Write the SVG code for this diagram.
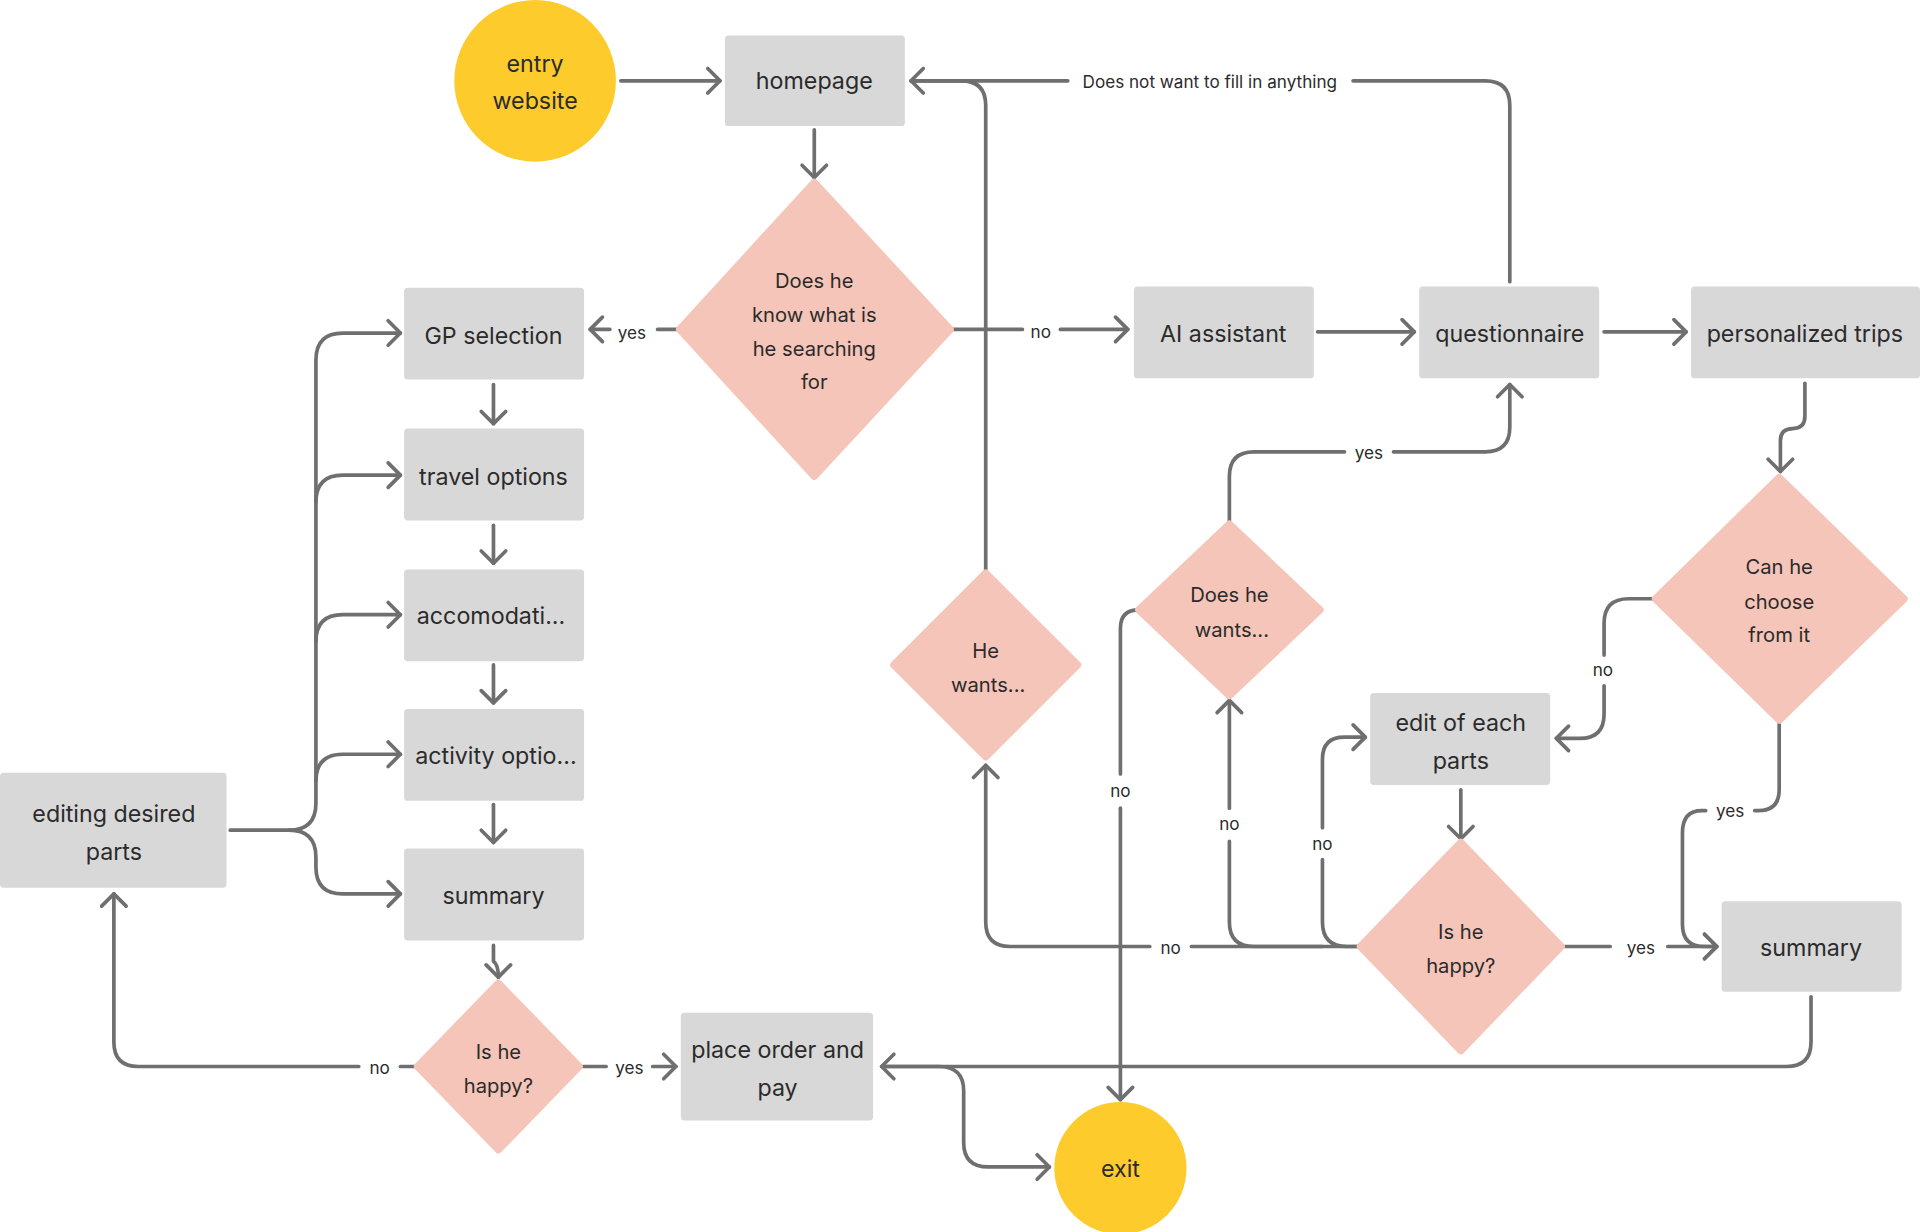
<svg xmlns="http://www.w3.org/2000/svg" width="1920" height="1232" viewBox="0 0 1920 1232">
<defs>
<marker id="a" markerUnits="userSpaceOnUse" markerWidth="30" markerHeight="30" viewBox="-15 -15 30 30" refX="0" refY="0" orient="auto"><path d="M-10,-10 L0,0 L-10,10" fill="none" stroke="#6f6f6f" stroke-width="3" stroke-linecap="round" stroke-linejoin="round"/></marker>
</defs>
<style>
.b{fill:#d8d8d8}
.d{fill:#f4c5b8}
.c{fill:#fdcb2c}
text{font-family:Inter,Roboto,"Liberation Sans",sans-serif;fill:#2b2b2b;text-anchor:middle}
.t{font-size:19px}
.s{font-size:16.5px}
.l{font-size:14px}
#conn path{fill:none;stroke:#6f6f6f;stroke-width:3;stroke-linecap:round;stroke-linejoin:round}
</style>
<rect width="1920" height="1232" fill="#fff"/>
<g transform="scale(1.22449)">
<g id="conn">
<path d="M507,66 H588" marker-end="url(#a)"/>
<path d="M665,106 V145" marker-end="url(#a)"/>
<path d="M553,269 H537"/><path d="M498,269 H482" marker-end="url(#a)"/>
<path d="M778,269 H835"/><path d="M866,269 H921" marker-end="url(#a)"/>
<path d="M1076,271 H1155" marker-end="url(#a)"/>
<path d="M1310,271 H1377" marker-end="url(#a)"/>
<path d="M1474,313 V340 Q1474,350 1464,350 Q1454,350 1454,360 V385" marker-end="url(#a)"/>
<path d="M1350,489 H1330 Q1310,489 1310,509 V535"/><path d="M1310,560 V583 Q1310,603 1290,603 H1271" marker-end="url(#a)"/>
<path d="M1193,645 V685" marker-end="url(#a)"/>
<path d="M1453,591 V645 Q1453,662 1436,662 H1433"/><path d="M1393,662 H1390 Q1374,662 1374,680 V755 Q1374,773 1392,773 H1402" marker-end="url(#a)"/>
<path d="M1278,773 H1315"/><path d="M1362,773 H1402" marker-end="url(#a)"/>
<path d="M1479,814 V851 Q1479,871 1459,871 H720" marker-end="url(#a)"/>
<path d="M1110,773 H973"/><path d="M939,773 H825 Q805,773 805,753 V625" marker-end="url(#a)"/>
<path d="M1110,773 H1100 Q1080,773 1080,753 V702"/><path d="M1080,676 V620 Q1080,602 1098,602 H1115" marker-end="url(#a)"/>
<path d="M1080,773 H1024 Q1004,773 1004,753 V687"/><path d="M1004,660 V572" marker-end="url(#a)"/>
<path d="M805,468 V86 Q805,66 785,66 H744" marker-end="url(#a)"/>
<path d="M1233,230 V86 Q1233,66 1213,66 H1105"/><path d="M872,66 H744"/>
<path d="M1004,428 V389 Q1004,369 1024,369 H1098"/><path d="M1138,369 H1213 Q1233,369 1233,349 V314" marker-end="url(#a)"/>
<path d="M930,498 H930 Q915,498 915,513 V632"/><path d="M915,660 V898" marker-end="url(#a)"/>
<path d="M403,314 V346" marker-end="url(#a)"/>
<path d="M403,429 V460" marker-end="url(#a)"/>
<path d="M403,543 V574" marker-end="url(#a)"/>
<path d="M403,657 V688" marker-end="url(#a)"/>
<path d="M403,772 V785 Q407,788 407,798" marker-end="url(#a)"/>
<path d="M340,871 H327"/><path d="M293,871 H113 Q93,871 93,851 V730" marker-end="url(#a)"/>
<path d="M476,871 H495"/><path d="M533,871 H552" marker-end="url(#a)"/>
<path d="M720,871 H767 Q787,871 787,891 V933 Q787,953 807,953 H857" marker-end="url(#a)"/>
<path d="M188,678 H236 Q258,678 258,656 V294 Q258,272 280,272 H327" marker-end="url(#a)"/>
<path d="M258,410 Q258,388 280,388 H327" marker-end="url(#a)"/>
<path d="M258,524 Q258,502 280,502 H327" marker-end="url(#a)"/>
<path d="M258,638 Q258,616 280,616 H327" marker-end="url(#a)"/>
<path d="M236,678 Q258,678 258,700 V708 Q258,730 280,730 H327" marker-end="url(#a)"/>
</g>
<g id="lbl" class="l">
<text x="516" y="277">yes</text><text x="850" y="276">no</text>
<text x="988" y="72">Does not want to fill in anything</text>
<text x="1118" y="375">yes</text><text x="1309" y="552">no</text>
<text x="1413" y="667">yes</text><text x="1340" y="779">yes</text>
<text x="956" y="779">no</text><text x="1080" y="694">no</text>
<text x="1004" y="678">no</text><text x="915" y="651">no</text>
<text x="310" y="877">no</text><text x="514" y="877">yes</text>
</g>
<g id="entry"><circle class="c" cx="437" cy="66" r="66"/><text class="t" x="437" y="59">entry</text><text class="t" x="437" y="89">website</text></g>
<g id="homepage"><rect class="b" x="592" y="29" width="147" height="74" rx="3"/><text class="t" x="665" y="73">homepage</text></g>
<g id="d1"><polygon class="d" points="665,149 776,269 665,389 555,269" stroke="#f4c5b8" stroke-width="6" stroke-linejoin="round"/><text class="s" x="665" y="235">Does he</text><text class="s" x="665" y="263">know what is</text><text class="s" x="665" y="291">he searching</text><text class="s" x="665" y="318">for</text></g>
<g id="ai"><rect class="b" x="926" y="234" width="147" height="75" rx="3"/><text class="t" x="999" y="279">AI assistant</text></g>
<g id="quest"><rect class="b" x="1159" y="234" width="147" height="75" rx="3"/><text class="t" x="1233" y="279">questionnaire</text></g>
<g id="pers"><rect class="b" x="1381" y="234" width="187" height="75" rx="3"/><text class="t" x="1474" y="279">personalized trips</text></g>
<g id="canhe"><polygon class="d" points="1453,390 1555,489 1453,588 1352,489" stroke="#f4c5b8" stroke-width="6" stroke-linejoin="round"/><text class="s" x="1453" y="469">Can he</text><text class="s" x="1453" y="497">choose</text><text class="s" x="1453" y="524">from it</text></g>
<g id="edit"><rect class="b" x="1119" y="566" width="147" height="75" rx="3"/><text class="t" x="1193" y="597">edit of each</text><text class="t" x="1193" y="628">parts</text></g>
<g id="happyR"><polygon class="d" points="1193,688 1275,773 1193,858 1111,773" stroke="#f4c5b8" stroke-width="6" stroke-linejoin="round"/><text class="s" x="1193" y="767">Is he</text><text class="s" x="1193" y="795">happy?</text></g>
<g id="sumR"><rect class="b" x="1406" y="736" width="147" height="74" rx="3"/><text class="t" x="1479" y="781">summary</text></g>
<g id="hewants"><polygon class="d" points="805,468 880,543 805,618 730,543" stroke="#f4c5b8" stroke-width="6" stroke-linejoin="round"/><text class="s" x="805" y="537">He</text><text class="s" x="807" y="565">wants...</text></g>
<g id="doeshe"><polygon class="d" points="1004,428 1078,498 1004,568 930,498" stroke="#f4c5b8" stroke-width="6" stroke-linejoin="round"/><text class="s" x="1004" y="492">Does he</text><text class="s" x="1006" y="520">wants...</text></g>
<g id="exit"><circle class="c" cx="915" cy="954" r="54"/><text class="t" x="915" y="961">exit</text></g>
<g id="gp"><rect class="b" x="330" y="235" width="147" height="75" rx="3"/><text class="t" x="403" y="281">GP selection</text></g>
<g id="travel"><rect class="b" x="330" y="350" width="147" height="75" rx="3"/><text class="t" x="403" y="396">travel options</text></g>
<g id="acc"><rect class="b" x="330" y="465" width="147" height="75" rx="3"/><text class="t" x="401" y="510">accomodati...</text></g>
<g id="act"><rect class="b" x="330" y="579" width="147" height="75" rx="3"/><text class="t" x="405" y="624">activity optio...</text></g>
<g id="sumL"><rect class="b" x="330" y="693" width="147" height="75" rx="3"/><text class="t" x="403" y="738">summary</text></g>
<g id="happyL"><polygon class="d" points="407,803 473,871 407,939 341,871" stroke="#f4c5b8" stroke-width="6" stroke-linejoin="round"/><text class="s" x="407" y="865">Is he</text><text class="s" x="407" y="893">happy?</text></g>
<g id="editing"><rect class="b" x="0" y="631" width="185" height="94" rx="3"/><text class="t" x="93" y="671">editing desired</text><text class="t" x="93" y="702">parts</text></g>
<g id="order"><rect class="b" x="556" y="827" width="157" height="88" rx="3"/><text class="t" x="635" y="864">place order and</text><text class="t" x="635" y="895">pay</text></g>
</g>
</svg>
